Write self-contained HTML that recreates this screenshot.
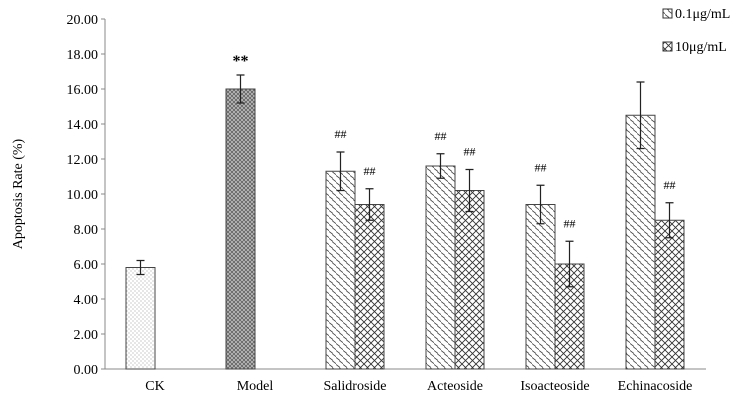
<!DOCTYPE html>
<html><head><meta charset="utf-8"><style>body{margin:0;background:#fff}svg{display:block;font-family:"Liberation Serif",serif}</style></head>
<body>
<svg width="738" height="404">
<defs>
<pattern id="pDot" width="4" height="4" patternUnits="userSpaceOnUse"><rect width="4" height="4" fill="#fff"/><circle cx="1" cy="1" r="0.55" fill="#888"/><circle cx="3" cy="3" r="0.55" fill="#888"/></pattern>
<pattern id="pModel" width="4" height="4" patternUnits="userSpaceOnUse"><rect width="4" height="4" fill="#bbb"/><path d="M0 0L4 4M4 0L0 4" stroke="#555" stroke-width="0.7"/></pattern>
<pattern id="pLow" width="7" height="7" patternUnits="userSpaceOnUse"><rect width="7" height="7" fill="#fff"/><path d="M0 0.5L4 3.5M3.5 4L7.5 7" stroke="#444" stroke-width="0.8"/></pattern>
<pattern id="pHigh" width="7" height="7" patternUnits="userSpaceOnUse"><rect width="7" height="7" fill="#fff"/><path d="M0 0L7 7M7 0L0 7" stroke="#333" stroke-width="0.9"/></pattern>
</defs>
<g id="chart"></g>
</svg>
<script>
const categories=["CK","Model","Salidroside","Acteoside","Isoacteoside","Echinacoside"];
const lowVals=[5.8,16.0,11.3,11.6,9.4,14.5];
const lowErr=[0.4,0.8,1.1,0.7,1.1,1.9];
const highVals=[null,null,9.4,10.2,6.0,8.5];
const highErr=[null,null,0.9,1.2,1.3,1.0];
const lowMarks=["","**","##","##","##",""];
const highMarks=["","","##","##","##","##"];
const yTicks=[0,2,4,6,8,10,12,14,16,18,20];
const NS="http://www.w3.org/2000/svg";
const g=document.getElementById("chart");
const y0=369,y1=19,yMax=20,left=105,band=100,bw=29;
const Y=v=>y0-(v/yMax)*(y0-y1);
const X=i=>left+band*(i+0.5);
function mk(t,a,p){const e=document.createElementNS(NS,t);for(const k in a)e.setAttribute(k,a[k]);(p||g).appendChild(e);return e;}
yTicks.forEach(t=>{
 const tl=mk("line",{x1:101,x2:105,y1:Y(t),y2:Y(t),stroke:"#888"});
 
 
 const tx=mk("text",{x:98,y:Y(t)+5,"text-anchor":"end","font-size":"14"});tx.textContent=t.toFixed(2);
 
 
});
const ax=mk("line",{x1:105,x2:706,y1:y0,y2:y0,stroke:"#888"});


const ay=mk("line",{x1:105,x2:105,y1:y1,y2:y0,stroke:"#888"});


const yt=mk("text",{x:0,y:0,transform:"translate(22,194) rotate(-90)","text-anchor":"middle","font-size":"14"});yt.textContent="Apoptosis Rate (%)";


function bar(x,v,e,fill,mark){
 const r=mk("rect",{x:x,y:Y(v),width:bw,height:y0-Y(v),fill:fill,stroke:"#444","stroke-width":"1"});
 
 
 const cx=x+bw/2;
 const eb=mk("path",{d:`M${cx} ${Y(v+e)}V${Y(v-e)}M${cx-4} ${Y(v+e)}H${cx+4}M${cx-4} ${Y(v-e)}H${cx+4}`,stroke:"#222",fill:"none","stroke-width":"1.2"});
 
 
 if(mark){const t=mk("text",{x:cx,y:Y(v+e)-14+(mark=="**"?5:0),"text-anchor":"middle","font-size":mark=="**"?"16":"12","font-weight":mark=="**"?"bold":"normal"});t.textContent=mark;
 
 }
}
categories.forEach((c,i)=>{
 const fill=i==0?"url(#pDot)":i==1?"url(#pModel)":"url(#pLow)";
 bar(X(i)-bw,lowVals[i],lowErr[i],fill,lowMarks[i]);
 if(highVals[i]!=null)bar(X(i),highVals[i],highErr[i],"url(#pHigh)",highMarks[i]);
 const t=mk("text",{x:X(i),y:390,"text-anchor":"middle","font-size":"14"});t.textContent=c;
 
 
});
[["url(#pLow)","0.1μg/mL",18],["url(#pHigh)","10μg/mL",51]].forEach(l=>{
 const r=mk("rect",{x:663,y:l[2]-9,width:9,height:9,fill:l[0],stroke:"#333"});
 
 
 const t=mk("text",{x:675,y:l[2],"font-size":"14"});t.textContent=l[1];
 
 
});
</script>
</body></html>
